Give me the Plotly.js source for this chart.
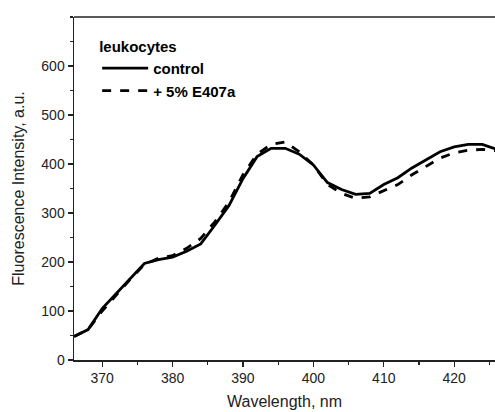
<!DOCTYPE html>
<html>
<head>
<meta charset="utf-8">
<script src="https://cdn.plot.ly/plotly-3.0.1.min.js"></script>
<style>html,body{margin:0;padding:0;background:#fff;overflow:hidden}</style>
</head>
<body>
<div id="chart" style="width:495px;height:412px"></div>
<script>
var wavelength = [366,368,370,372,374,376,378,380,382,384,386,388,390,392,394,396,398,400,402,404,406,408,410,412,414,416,418,420,422,424,426];
var control = [48,62,105,135,165,197,205,210,222,237,275,315,370,415,432,432,420,398,362,348,338,340,358,372,392,408,425,435,440,440,430];
var e407a = [48,62,100,133,165,195,208,213,228,248,282,322,378,420,440,445,425,398,358,340,330,333,345,358,378,395,412,423,428,430,427];
var seriesNames = ["control", "+ 5% E407a"];
var legendTitle = "leukocytes";

var font = "Liberation Sans, Arial, sans-serif";
var traces = [
  {x: wavelength, y: control, name: seriesNames[0], mode: "lines", type: "scatter",
   line: {color: "#000", width: 2.8, dash: "solid"}},
  {x: wavelength, y: e407a, name: seriesNames[1], mode: "lines", type: "scatter",
   line: {color: "#000", width: 2.8, dash: "dash"}}
];
var layout = {
  width: 495, height: 412,
  margin: {l: 74, r: 0, t: 17, b: 52},
  paper_bgcolor: "#fff", plot_bgcolor: "#fff",
  font: {family: font, color: "#222", size: 14},
  showlegend: true,
  legend: {
    x: 0.055, y: 0.955, xanchor: "left", yanchor: "top",
    bgcolor: "rgba(0,0,0,0)",
    itemwidth: 46,
    title: {text: "<b>" + legendTitle + "</b>", font: {family: font, size: 15, color: "#000"}},
    font: {family: font, size: 15, color: "#000", weight: "bold"},
    tracegroupgap: 0
  },
  xaxis: {
    range: [366, 425.8], showgrid: false, zeroline: false,
    showline: true, linecolor: "#222", linewidth: 1.5,
    ticks: "outside", ticklen: 5, tickwidth: 1.3, tickcolor: "#222",
    dtick: 10, tick0: 370,
    minor: {dtick: 5, tick0: 365, ticks: "outside", ticklen: 3, tickwidth: 1.1, tickcolor: "#222", showgrid: false},
    tickfont: {family: font, size: 14, color: "#222"},
    title: {text: "Wavelength, nm", font: {family: font, size: 16, color: "#222"}, standoff: 10}
  },
  yaxis: {
    range: [0, 700], showgrid: false, zeroline: false,
    showline: true, linecolor: "#222", linewidth: 1.5,
    ticks: "outside", ticklen: 5, tickwidth: 1.3, tickcolor: "#222",
    tickvals: [0,100,200,300,400,500,600],
    minor: {dtick: 50, ticks: "outside", ticklen: 3, tickwidth: 1.1, tickcolor: "#222", showgrid: false},
    tickfont: {family: font, size: 14, color: "#222"},
    title: {text: "Fluorescence Intensity, a.u.", font: {family: font, size: 16, color: "#222"}, standoff: 12}
  },
  shapes: [
    {type: "line", xref: "paper", yref: "paper", x0: 0, x1: 1, y0: 1, y1: 1,
     line: {color: "#222", width: 1.5}}
  ]
};
Plotly.newPlot("chart", traces, layout, {displayModeBar: false, staticPlot: true});
</script>
</body>
</html>
